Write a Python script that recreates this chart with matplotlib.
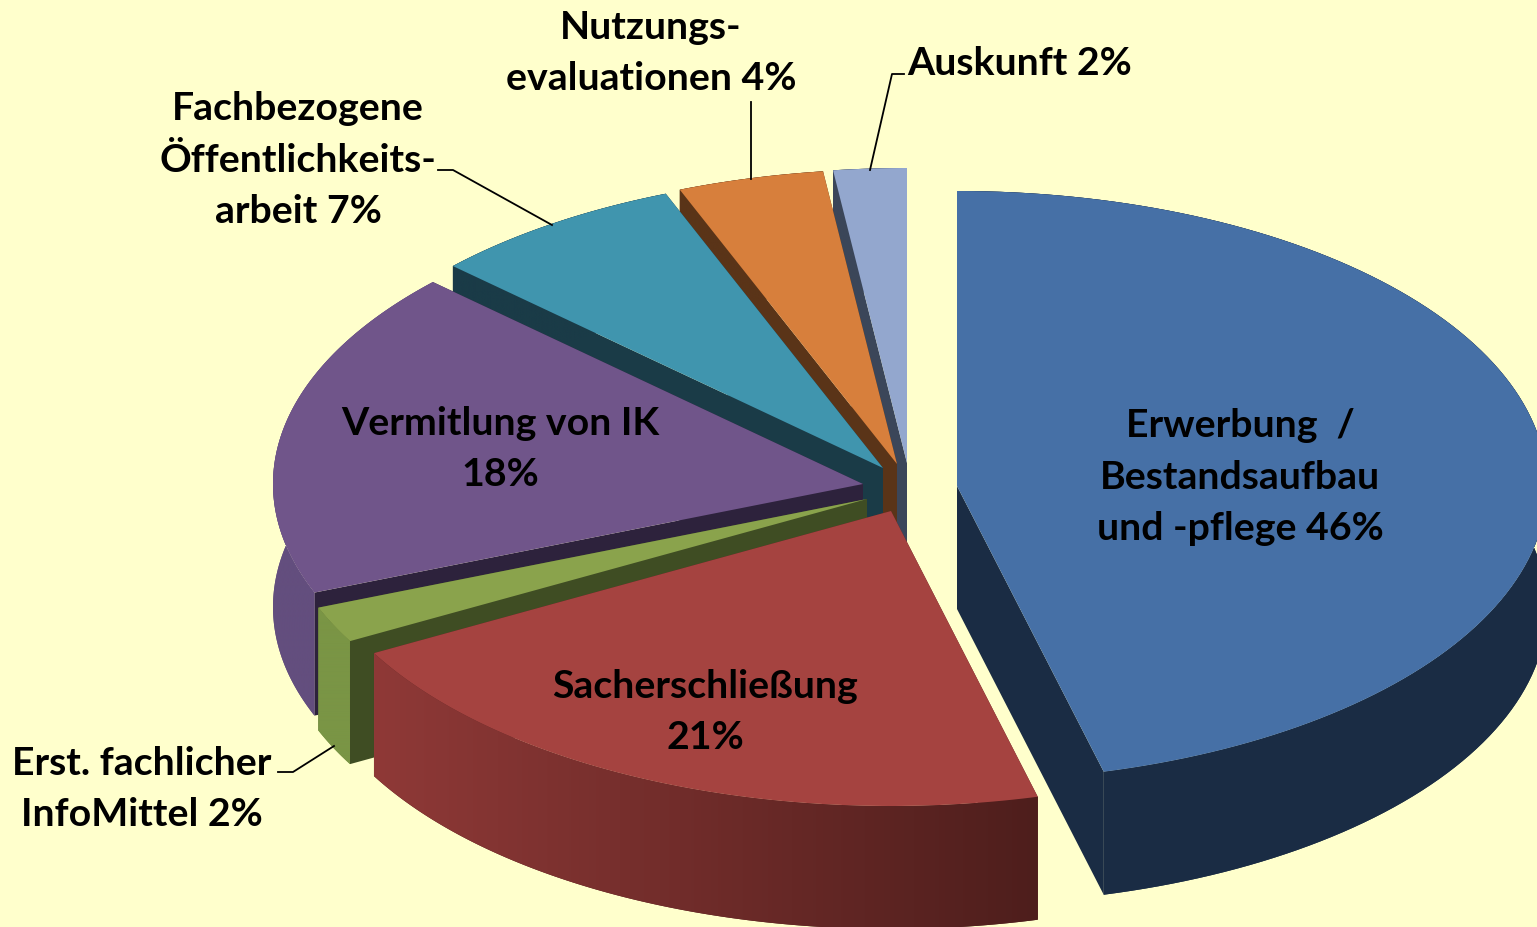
import numpy as np
import matplotlib
matplotlib.use('Agg')
import matplotlib.pyplot as plt
from matplotlib.colors import LinearSegmentedColormap

# Share per slice in percent, clockwise from 12 o'clock
categories = ['Erwerbung', 'Sacherschliessung', 'Erst. InfoMittel', 'Vermittlung IK',
              'Oeffentlichkeitsarbeit', 'Nutzungsevaluationen', 'Auskunft']
values = [46, 21, 2, 18, 7, 4, 2]

label_texts = ['Erwerbung  /\nBestandsaufbau\nund -pflege 46%', 'Sacherschließung\n21%',
               'Erst. fachlicher\nInfoMittel 2%', 'Vermitlung von IK\n18%',
               'Fachbezogene\nÖffentlichkeits-\narbeit 7%', 'Nutzungs-\nevaluationen 4%',
               'Auskunft 2%']

# Layout in pixels (axes run 1:1 with the image)
label_pos = [(1240, 477), (705, 712), (142, 789), (500, 449), (298, 160), (651, 53), (1020, 63)]
apex = [(957, 486), (891, 511), (867, 499), (863, 484), (883, 468), (897, 464), (907, 463)]
rx, ry, depth = 590, 295, 123

top_colors = ['#4670A6', '#A54340', '#8AA34C', '#70558A', '#4095AE', '#D77F3C', '#93A7CE']
face_colors = ['#1A2C44', '#5A2523', '#3F4D23', '#2D223C', '#1A3B47', '#5A3418', '#3B4659']
wall_left = ['#1A2C44', '#8F3937', '#7A9545', '#634E7E', '#1A3B47', '#5A3418', '#3B4659']
wall_right = ['#1B2D45', '#4E1E1C', '#7A9545', '#634E7E', '#1A3B47', '#5A3418', '#3B4659']

# Leader lines: label side to slice side
leaders = [[(278, 772), (293, 772), (334, 746)],
           [(438, 170), (453, 170), (552, 225)],
           [(751, 102), (751, 179)],
           [(904, 74), (892, 74), (870, 170)]]

bg = '#FFFFCC'

fig = plt.figure(figsize=(15.37, 9.27), dpi=100, facecolor=bg)
ax = fig.add_axes([0, 0, 1, 1])
ax.axis('off')


def rim(center, t):
    return center[0] + rx * np.sin(t), center[1] - ry * np.cos(t)


edges = np.radians(np.cumsum([0] + values) * 3.6)

# Painter's order: back slices first, the big front one last
for i in [6, 5, 4, 3, 2, 1, 0]:
    c = apex[i]
    t0, t1 = edges[i], edges[i + 1]
    ts = np.linspace(t0, t1, 120)
    xs, ys = rim(c, ts)
    z = i * -3 + 30

    # radial cut faces
    for t in (t0, t1):
        x, y = rim(c, t)
        ax.fill([c[0], x, x, c[0]], [c[1], y, y + depth, c[1] + depth],
                color=face_colors[i], lw=0, zorder=z)

    # outer wall: horizontal gradient clipped to the wall shape, solid shape below it hides the seam
    cmap = LinearSegmentedColormap.from_list('wall', [wall_left[i], wall_right[i]])
    wall = ax.fill(np.r_[xs, xs[::-1]], np.r_[ys, ys[::-1] + depth],
                   color=wall_left[i] if i != 1 else wall_right[i], lw=0, zorder=z + 0.5)[0]
    im = ax.imshow(np.linspace(0, 1, 256)[None, :], cmap=cmap, aspect='auto', zorder=z + 1,
                   extent=(xs.min(), xs.max(), ys.max() + depth, ys.min()))
    im.set_clip_path(wall)

    # top of the slice
    ax.fill(np.r_[c[0], xs], np.r_[c[1], ys], color=top_colors[i], lw=0, zorder=z + 2)

for pts in leaders:
    ax.plot([p[0] for p in pts], [p[1] for p in pts], color='black', lw=1.3, zorder=40)

for txt, (x, y) in zip(label_texts, label_pos):
    ax.text(x, y, txt, ha='center', va='center', family='Lato', fontweight='bold',
            fontsize=28.3, linespacing=1.57, color='black', zorder=50)

ax.set_xlim(0, 1537)
ax.set_ylim(927, 0)

fig.savefig('out.png', dpi=100, facecolor=bg)
